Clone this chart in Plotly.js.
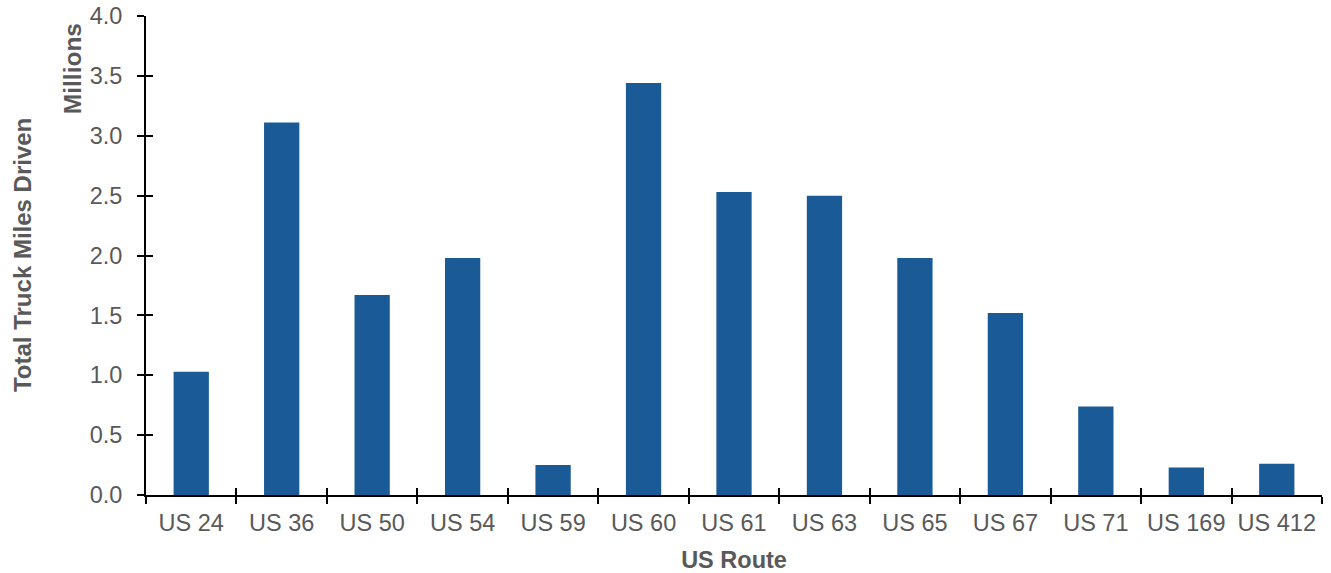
<!DOCTYPE html>
<html>
<head>
<meta charset="utf-8">
<script src="https://cdn.plot.ly/plotly-3.0.1.min.js"></script>
<style>body{margin:0;background:#fff}#chart{width:1331px;height:573px}</style>
</head>
<body>
<div id="chart"></div>
<script>
const routes = ["US 24","US 36","US 50","US 54","US 59","US 60","US 61","US 63","US 65","US 67","US 71","US 169","US 412"];
const truckMiles = [1.03,3.11,1.67,1.98,0.25,3.44,2.53,2.50,1.98,1.52,0.74,0.23,0.26];
const yTickVals = [0,0.5,1,1.5,2,2.5,3,3.5,4];
const yTickText = ["0.0","0.5","1.0","1.5","2.0","2.5","3.0","3.5","4.0"];

const gray = "#595959";
const fontFam = "Liberation Sans, Arial, sans-serif";

const traces = [
  {type:"bar", x:routes, y:truckMiles, marker:{color:"#1a5a97"}, hoverinfo:"x+y"},
  {type:"bar", x:routes, y:truckMiles, xaxis:"x2", yaxis:"y2", marker:{color:"rgba(0,0,0,0)"}, hoverinfo:"skip", showlegend:false}
];

const layout = {
  width:1331, height:573,
  margin:{l:146, r:9, t:16, b:78},
  paper_bgcolor:"#fff", plot_bgcolor:"#fff",
  showlegend:false,
  bargap:0.61,
  font:{family:fontFam, color:gray, size:23},
  xaxis:{
    type:"category", tickson:"boundaries", ticks:"outside", ticklen:7, tickwidth:2, tickcolor:"#000",
    showline:true, linecolor:"#000", linewidth:2, showgrid:false, zeroline:false,
    tickfont:{family:fontFam, size:23.5, color:gray}, ticklabelstandoff:6,
    title:{text:"US Route", font:{family:fontFam, size:23.5, color:gray, weight:"bold"}, standoff:16}
  },
  xaxis2:{
    type:"category", overlaying:"x", tickson:"boundaries", ticks:"inside", ticklen:7, tickwidth:2, tickcolor:"#000",
    showticklabels:false, showline:false, showgrid:false, zeroline:false, side:"bottom", anchor:"y2"
  },
  yaxis:{
    range:[0,4], tickvals:yTickVals, ticktext:yTickText, ticks:"outside", ticklen:7, tickwidth:2, tickcolor:"#000",
    showline:true, linecolor:"#000", linewidth:2, showgrid:false, zeroline:false,
    tickfont:{family:fontFam, size:23.5, color:gray}, ticklabelstandoff:10
  },
  yaxis2:{
    range:[0,4], tickvals:yTickVals, overlaying:"y", ticks:"inside", ticklen:7, tickwidth:2, tickcolor:"#000",
    showticklabels:false, showline:false, showgrid:false, zeroline:false, anchor:"x2", side:"left"
  },
  annotations:[
    {text:"Total Truck Miles Driven", xref:"paper", yref:"paper", x:-0.105, y:0.5, xanchor:"center", yanchor:"middle",
     textangle:-90, showarrow:false, font:{family:fontFam, size:24, color:gray, weight:"bold"}},
    {text:"Millions", xref:"paper", yref:"paper", x:-0.063, y:0.99, xanchor:"center", yanchor:"top",
     textangle:-90, showarrow:false, font:{family:fontFam, size:24.5, color:gray, weight:"bold"}}
  ]
};

Plotly.newPlot("chart", traces, layout, {displayModeBar:false, staticPlot:true});
</script>
</body>
</html>
